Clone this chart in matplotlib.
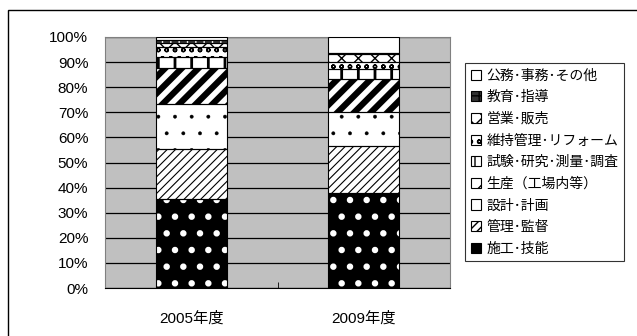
import matplotlib.pyplot as plt
from matplotlib.patches import Patch, Rectangle
from matplotlib.ticker import PercentFormatter

plt.rcParams['font.family'] = ['Liberation Sans', 'Noto Sans CJK JP']

years = ["2005年度", "2009年度"]
jobs = ["施工･技能", "管理･監督", "設計･計画", "生産（工場内等）",
        "試験･研究･測量･調査", "維持管理･リフォーム", "営業･販売",
        "教育･指導", "公務･事務･その他"]
# share of each job type (%) per year, bottom to top
share_2005 = [35.3, 20.2, 17.9, 14.3, 4.4, 3.9, 1.7, 1.3, 1.0]
share_2009 = [37.7, 19.0, 13.3, 13.3, 4.0, 2.9, 3.1, 0.3, 6.4]

# face, hatch, hatch colour, hatch width
styles = [
    ("black", ".", "white", 2.2),
    ("white", "////", "black", 0.8),
    ("white", ".", "black", 0.3),
    ("white", "//", "black", 4.5),
    ("white", "|", "black", 2.0),
    ("white", "oo", "black", 1.0),
    ("white", "xx", "black", 1.0),
    ("#303030", "++", "white", 1.0),
    ("white", "", "black", 1.0),
]

fig = plt.figure(figsize=(6.37, 3.36), dpi=100)
fig.patches.append(Rectangle((8 / 637, -0.1), 1.0, 1 - 10 / 336 + 0.1,
                             transform=fig.transFigure, fill=False,
                             edgecolor="black", linewidth=1.0))
ax = fig.add_axes([105 / 637, 48 / 336, 345 / 637, 251 / 336])
ax.set_facecolor("#c0c0c0")

x = range(len(years))
width = 0.41
bottoms = [0.0, 0.0]
for i, (face, hatch, hcol, hlw) in enumerate(styles):
    vals = [share_2005[i], share_2009[i]]
    bars = ax.bar(x, vals, width, bottom=bottoms, color=face,
                  edgecolor=hcol, hatch=hatch, linewidth=0, zorder=3)
    for b in bars:
        if hasattr(b, "set_hatch_linewidth"):
            b.set_hatch_linewidth(hlw)
    ax.bar(x, vals, width, bottom=bottoms, fill=False,
           edgecolor="black", linewidth=0.8, zorder=4)
    bottoms = [bottoms[0] + vals[0], bottoms[1] + vals[1]]

ax.set_xlim(-0.5, 1.5)
ax.set_ylim(0, 100)
ax.set_yticks(range(0, 101, 10))
ax.yaxis.set_major_formatter(PercentFormatter(decimals=0))
ax.set_xticks(list(x))
ax.set_xticklabels(years)
ax.set_xticks([0.5], minor=True)
ax.tick_params(axis="y", length=0, pad=12, labelsize=11)
ax.tick_params(axis="x", which="major", length=0, pad=17, labelsize=11)
ax.tick_params(axis="x", which="minor", length=4, direction="in")
ax.grid(axis="y", color="black", linewidth=0.9, zorder=1)
for side in ["top", "right", "left"]:
    ax.spines[side].set_color("#808080")
ax.spines["bottom"].set_color("black")

handles = []
for (face, hatch, hcol, hlw), name in zip(styles, jobs):
    handles.append(Patch(facecolor=face, edgecolor="black", hatch=hatch,
                         linewidth=0.8, label=name))
leg = ax.legend(handles[::-1], jobs[::-1], loc="upper left",
                bbox_to_anchor=(465 / 637, 1 - 63 / 336),
                bbox_transform=fig.transFigure, fontsize=10,
                frameon=True, fancybox=False, edgecolor="black",
                handlelength=0.75, handleheight=0.75, handletextpad=0.4,
                labelspacing=0.55, borderpad=0.4, borderaxespad=0)
leg.get_frame().set_linewidth(0.8)

fig.savefig("out.png", dpi=100)
